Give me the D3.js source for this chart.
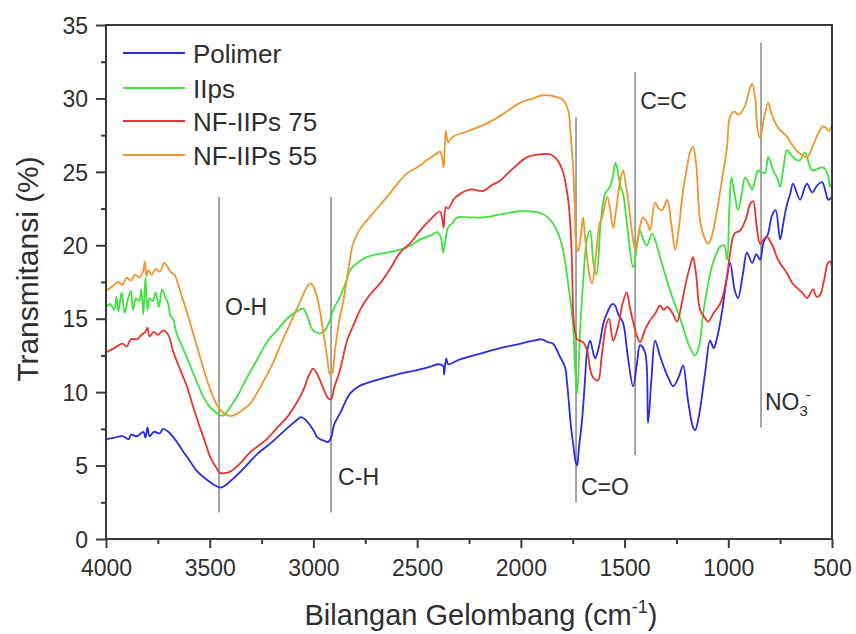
<!DOCTYPE html>
<html>
<head>
<meta charset="utf-8">
<script src="https://cdn.jsdelivr.net/npm/d3@7"></script>
<style>
  html, body { margin: 0; padding: 0; background: #fff; }
  svg { display: block; font-family: "Liberation Sans", Arial, Helvetica, sans-serif; }
</style>
</head>
<body>
<svg id="chart" width="856" height="634"></svg>
<script>
// ---------------- DATA ----------------
const seriesNames = ["Polimer", "IIps", "NF-IIPs 75", "NF-IIPs 55"];
const seriesColors = ["#2b2be0", "#3de23d", "#e8332f", "#f0952c"];

const xTicks = [4000, 3500, 3000, 2500, 2000, 1500, 1000, 500];
const yTicks = [0, 5, 10, 15, 20, 25, 30, 35];

// [wavenumber, transmittance]
const polimer = [[4000,6.8],[3960,6.9],[3920,7.0],[3890,6.8],[3880,7.1],[3850,7.0],[3820,7.3],[3810,6.9],[3800,7.6],[3790,7.0],[3770,7.3],[3740,7.2],[3725,7.5],[3700,7.3],[3680,7.0],[3653,6.5],[3630,6.0],[3600,5.4],[3560,4.6],[3520,4.1],[3480,3.7],[3450,3.5],[3420,3.7],[3380,4.2],[3330,4.9],[3270,5.8],[3200,6.6],[3130,7.5],[3080,8.1],[3060,8.3],[3030,8.0],[3000,7.4],[2980,6.9],[2950,6.7],[2930,6.6],[2915,6.9],[2900,7.8],[2870,8.6],[2824,9.9],[2780,10.4],[2700,10.8],[2600,11.2],[2500,11.5],[2443,11.7],[2400,11.9],[2375,11.8],[2370,11.2],[2360,12.3],[2350,11.9],[2300,12.2],[2200,12.6],[2100,13.0],[2000,13.3],[1941,13.5],[1900,13.6],[1869,13.4],[1845,13.3],[1811,12.4],[1787,11.7],[1777,10.6],[1758,7.6],[1748,6.5],[1735,5.2],[1729,5.0],[1720,6.2],[1705,8.1],[1690,11.0],[1681,12.7],[1666,13.5],[1650,12.6],[1642,12.3],[1625,13.0],[1600,14.8],[1584,15.4],[1560,16.0],[1546,15.9],[1530,15.3],[1507,14.7],[1485,12.5],[1459,10.4],[1440,12.0],[1425,13.2],[1401,12.7],[1387,7.9],[1370,11.0],[1353,13.5],[1330,12.5],[1305,11.5],[1290,11.0],[1266,10.4],[1240,11.0],[1218,11.8],[1195,9.5],[1170,7.6],[1160,7.4],[1140,8.5],[1110,11.5],[1088,13.5],[1070,13.0],[1054,13.7],[1030,15.5],[1010,17.5],[991,18.8],[970,17.0],[953,16.4],[930,18.0],[910,19.5],[885,18.8],[865,19.4],[847,19.0],[830,20.2],[808,20.8],[790,22.0],[772,22.4],[750,20.4],[735,21.5],[720,22.6],[700,23.6],[688,24.2],[654,23.1],[630,24.0],[620,24.2],[596,23.6],[570,24.1],[548,24.3],[530,23.6],[519,23.1],[500,23.3]];

const iips = [[4000,15.8],[3980,16.0],[3960,15.6],[3950,16.5],[3940,15.5],[3925,16.8],[3910,15.4],[3895,16.3],[3880,16.9],[3870,15.6],[3855,16.4],[3840,16.2],[3830,17.0],[3820,15.3],[3810,17.8],[3800,15.6],[3790,16.4],[3775,16.2],[3760,16.8],[3745,15.8],[3730,17.0],[3715,16.5],[3700,16.0],[3690,15.2],[3677,15.0],[3660,14.0],[3629,13.0],[3600,12.0],[3580,11.3],[3550,10.3],[3532,9.7],[3500,9.0],[3484,8.8],[3460,8.5],[3436,8.4],[3410,8.8],[3368,9.7],[3320,11.0],[3272,12.2],[3220,13.5],[3176,14.2],[3120,15.1],[3079,15.5],[3050,15.7],[3025,15.0],[3002,14.2],[2968,14.0],[2945,14.2],[2920,14.9],[2905,15.6],[2872,16.5],[2840,17.6],[2824,18.3],[2780,18.9],[2742,19.2],[2690,19.4],[2645,19.5],[2582,19.7],[2530,20.0],[2486,20.4],[2430,20.7],[2404,20.9],[2385,20.5],[2375,19.5],[2365,20.2],[2351,21.2],[2330,21.5],[2307,21.9],[2250,21.9],[2182,21.9],[2100,22.1],[2018,22.3],[1950,22.3],[1907,22.2],[1870,21.9],[1845,21.5],[1820,20.8],[1797,19.7],[1772,17.4],[1755,15.5],[1748,14.5],[1738,11.5],[1729,9.9],[1715,14.0],[1700,17.5],[1680,20.5],[1666,21.0],[1650,18.8],[1635,18.0],[1615,21.5],[1594,23.5],[1570,24.0],[1555,24.8],[1545,25.6],[1536,25.3],[1520,24.0],[1507,23.5],[1485,21.0],[1459,18.5],[1440,20.0],[1425,21.0],[1410,20.4],[1392,20.0],[1367,20.8],[1345,20.0],[1329,19.2],[1300,17.8],[1266,16.3],[1247,15.6],[1220,14.5],[1190,13.2],[1160,12.5],[1140,13.2],[1120,15.5],[1102,17.0],[1080,18.5],[1055,19.5],[1040,19.9],[1020,20.0],[1006,19.0],[995,22.5],[985,24.6],[970,23.5],[953,22.4],[935,23.5],[919,24.6],[900,24.2],[885,23.8],[870,24.5],[856,25.1],[840,25.0],[823,24.9],[808,26.0],[795,25.6],[784,25.1],[765,24.6],[750,24.0],[735,25.2],[717,26.5],[700,26.2],[688,26.0],[670,25.8],[654,25.8],[630,26.3],[610,25.5],[596,25.1],[570,25.2],[543,25.3],[520,24.8],[509,24.0],[500,24.2]];

const nf75 = [[4000,12.7],[3960,13.0],[3920,13.3],[3900,13.1],[3880,13.6],[3850,13.6],[3830,13.9],[3810,14.1],[3800,14.4],[3790,13.8],[3770,14.1],[3750,13.9],[3725,14.2],[3700,13.9],[3677,12.8],[3650,11.8],[3610,10.4],[3580,9.0],[3547,7.6],[3520,6.5],[3498,5.6],[3470,4.9],[3450,4.5],[3420,4.5],[3400,4.6],[3350,5.2],[3306,5.9],[3260,6.4],[3224,6.8],[3180,7.5],[3127,8.3],[3080,9.3],[3050,10.1],[3020,11.2],[3002,11.6],[2985,11.3],[2968,10.8],[2945,10.0],[2930,9.6],[2915,9.5],[2900,10.3],[2872,11.5],[2838,13.5],[2800,14.8],[2775,15.6],[2730,16.6],[2679,17.4],[2630,18.4],[2582,19.5],[2530,20.2],[2486,21.0],[2440,21.7],[2390,22.3],[2378,21.7],[2372,21.2],[2362,22.6],[2351,22.5],[2320,23.2],[2293,23.5],[2240,23.8],[2182,23.7],[2140,24.1],[2100,24.4],[2040,25.2],[1970,26.0],[1900,26.2],[1859,26.2],[1830,25.9],[1811,25.5],[1797,25.0],[1772,23.1],[1760,21.0],[1753,18.5],[1748,15.5],[1740,14.2],[1729,13.6],[1715,13.5],[1700,13.4],[1680,12.8],[1665,11.5],[1652,11.0],[1628,10.8],[1610,12.5],[1590,14.5],[1575,15.0],[1555,13.5],[1531,14.5],[1510,16.0],[1490,16.8],[1475,15.8],[1459,14.8],[1440,13.8],[1425,13.4],[1400,14.3],[1377,14.9],[1350,15.4],[1329,15.9],[1310,15.6],[1295,15.8],[1270,15.4],[1247,14.8],[1225,16.0],[1199,17.8],[1180,18.8],[1170,19.2],[1155,18.0],[1136,15.6],[1110,15.0],[1097,14.8],[1070,15.4],[1040,16.0],[1025,16.6],[1005,18.0],[991,19.5],[970,20.8],[943,21.0],[915,21.8],[895,22.8],[880,23.0],[865,21.5],[847,20.1],[830,20.4],[813,20.6],[800,20.3],[784,19.9],[760,19.0],[717,18.1],[690,17.4],[660,17.0],[639,16.7],[620,16.4],[591,17.0],[575,16.5],[558,16.6],[540,17.5],[520,18.8],[509,18.9],[500,18.5]];

const nf55 = [[4000,16.9],[3970,17.2],[3940,17.5],[3920,17.3],[3900,17.8],[3880,17.6],[3860,18.0],[3840,17.8],[3822,18.2],[3812,18.9],[3805,17.9],[3795,18.3],[3780,18.0],[3760,18.4],[3740,18.2],[3720,18.8],[3706,18.6],[3690,18.2],[3670,18.0],[3658,17.6],[3640,16.8],[3629,16.3],[3600,15.0],[3580,14.0],[3555,12.8],[3532,11.7],[3508,10.6],[3484,9.7],[3460,9.0],[3436,8.6],[3410,8.4],[3388,8.4],[3350,8.7],[3306,9.2],[3250,10.5],[3195,12.0],[3150,13.5],[3098,15.1],[3060,16.3],[3030,17.2],[3016,17.4],[3000,17.2],[2983,16.5],[2968,15.5],[2954,14.2],[2935,12.5],[2920,11.2],[2910,11.3],[2895,13.0],[2870,15.3],[2857,16.1],[2830,18.5],[2809,20.1],[2780,21.0],[2742,21.7],[2700,22.4],[2645,23.3],[2600,24.1],[2549,24.9],[2500,25.3],[2452,25.8],[2410,26.2],[2390,26.4],[2380,26.0],[2372,25.3],[2362,27.8],[2351,27.0],[2340,27.2],[2327,27.4],[2250,27.8],[2163,28.3],[2080,29.0],[2004,29.7],[1940,30.0],[1900,30.2],[1859,30.2],[1830,30.1],[1797,29.9],[1772,29.2],[1760,27.5],[1748,25.3],[1740,22.5],[1733,20.0],[1724,19.6],[1712,20.5],[1700,21.9],[1690,20.5],[1670,18.0],[1657,17.4],[1640,19.0],[1620,21.5],[1608,21.9],[1584,23.3],[1570,22.5],[1555,21.2],[1540,22.5],[1520,24.5],[1507,25.1],[1495,24.2],[1483,23.1],[1465,21.0],[1449,19.7],[1430,21.0],[1411,21.9],[1390,21.5],[1377,21.0],[1353,22.9],[1335,22.5],[1319,22.4],[1295,23.1],[1275,21.5],[1256,19.7],[1240,21.0],[1220,23.5],[1199,25.3],[1185,26.3],[1170,26.7],[1155,25.5],[1136,21.7],[1115,20.5],[1097,20.1],[1080,20.6],[1054,22.4],[1030,24.5],[1006,26.7],[991,28.8],[970,29.1],[953,28.9],[940,29.0],[919,29.5],[900,30.5],[885,31.0],[870,30.0],[860,28.0],[847,27.3],[830,28.5],[808,29.7],[790,28.9],[760,28.0],[717,27.4],[690,26.8],[660,26.3],[620,26.0],[600,26.5],[570,27.5],[543,28.1],[530,28.0],[515,27.8],[500,28.2]];

// band markers: wavenumber, top T, bottom T
const bandWn = [3455, 2915, 1734, 1449, 842];
const bandTop = [23.3, 23.3, 28.7, 31.8, 33.8];
const bandBottom = [1.8, 1.8, 2.5, 5.7, 7.6];
// band labels: anchor wavenumber, baseline T
const bandLabels = ["O-H", "C-H", "C=O", "C=C", "NO3-"];
const bandLabelWn = [3426, 2881, 1710, 1425, 823];
const bandLabelT = [15.25, 3.7, 3.0, 29.3, 8.8];

// ---------------- CHART ----------------
const svg = d3.select("#chart");
const L = 106, R = 832, T = 25, B = 539;
const x = d3.scaleLinear().domain([4000, 500]).range([L, R]);
const y = d3.scaleLinear().domain([0, 35]).range([B, T]);
const textColor = "#2e2e2e";
const axisColor = "#3a3a3a";

// minor ticks
const xMinor = xTicks.slice(0, -1).map(v => v - 250);
const yMinor = yTicks.slice(0, -1).map(v => v + 2.5);

const gx = svg.append("g").attr("transform", `translate(0,${B})`)
  .call(d3.axisBottom(x).tickValues(xTicks).tickSize(9).tickSizeOuter(0).tickPadding(12).tickFormat(d3.format("d")));
const gxm = svg.append("g").attr("transform", `translate(0,${B})`)
  .call(d3.axisBottom(x).tickValues(xMinor).tickSize(5).tickSizeOuter(0).tickFormat(""));
const gy = svg.append("g").attr("transform", `translate(${L},0)`)
  .call(d3.axisLeft(y).tickValues(yTicks).tickSize(10).tickSizeOuter(0).tickPadding(8).tickFormat(d3.format("d")));
const gym = svg.append("g").attr("transform", `translate(${L},0)`)
  .call(d3.axisLeft(y).tickValues(yMinor).tickSize(5).tickSizeOuter(0).tickFormat(""));

[gx, gxm, gy, gym].forEach(g => {
  g.select(".domain").remove();
  g.selectAll(".tick line").attr("stroke", axisColor).attr("stroke-width", 2);
  g.selectAll(".tick text").attr("fill", textColor).style("font-size", "23px")
    .style("font-family", '"Liberation Sans", Arial, sans-serif');
});
gy.selectAll(".tick text").attr("dy", "0.36em");

// band marker lines
bandWn.forEach((w, i) => {
  svg.append("line")
    .attr("x1", x(w)).attr("x2", x(w))
    .attr("y1", y(bandTop[i])).attr("y2", y(bandBottom[i]))
    .attr("stroke", "#9a9a9a").attr("stroke-width", 1.8);
});

// series lines
const allSeries = [polimer, iips, nf75, nf55];
const line = d3.line().x(d => x(d[0])).y(d => y(d[1])).curve(d3.curveCatmullRom.alpha(0.5));
svg.append("clipPath").attr("id", "plotclip").append("rect")
  .attr("x", L).attr("y", T).attr("width", R - L).attr("height", B - T);
allSeries.forEach((s, i) => {
  svg.append("path").datum(s)
    .attr("d", line)
    .attr("fill", "none")
    .attr("stroke", seriesColors[i])
    .attr("stroke-width", 1.8)
    .attr("stroke-linejoin", "round")
    .attr("clip-path", "url(#plotclip)");
});

// frame
svg.append("rect").attr("x", L).attr("y", T).attr("width", R - L).attr("height", B - T)
  .attr("fill", "none").attr("stroke", axisColor).attr("stroke-width", 2);

// band labels
bandLabels.forEach((lab, i) => {
  const t = svg.append("text")
    .attr("x", x(bandLabelWn[i])).attr("y", y(bandLabelT[i]))
    .attr("fill", textColor).style("font-size", "23px");
  if (lab === "NO3-") {
    t.append("tspan").text("NO");
    t.append("tspan").text("3").style("font-size", "15px").attr("dy", 6);
    t.append("tspan").text("-").style("font-size", "15px").attr("dx", -2).attr("dy", -16);
  } else {
    t.text(lab);
  }
});

// legend
const legY = [53, 88, 121, 155];
seriesNames.forEach((n, i) => {
  svg.append("line").attr("x1", 123).attr("x2", 185).attr("y1", legY[i]).attr("y2", legY[i])
    .attr("stroke", seriesColors[i]).attr("stroke-width", 2.2);
  svg.append("text").attr("x", 193).attr("y", legY[i] + 9.5)
    .attr("fill", textColor).style("font-size", "26px").text(n);
});

// axis titles
const xt = svg.append("text").attr("x", 481).attr("y", 625).attr("text-anchor", "middle")
  .attr("fill", textColor).style("font-size", "29px");
xt.append("tspan").text("Bilangan Gelombang (cm");
xt.append("tspan").text("-1").style("font-size", "18px").attr("dy", -12);
xt.append("tspan").text(")").attr("dy", 12);

svg.append("text").attr("transform", "translate(38,269) rotate(-90)").attr("text-anchor", "middle")
  .attr("fill", textColor).style("font-size", "30px").text("Transmitansi (%)");
</script>
</body>
</html>
